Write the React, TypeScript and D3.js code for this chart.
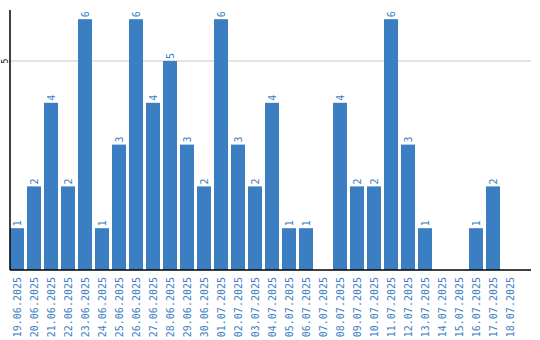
import React from "react";
import * as d3 from "d3";

const dates = [
  "19.06.2025","20.06.2025","21.06.2025","22.06.2025","23.06.2025","24.06.2025",
  "25.06.2025","26.06.2025","27.06.2025","28.06.2025","29.06.2025","30.06.2025",
  "01.07.2025","02.07.2025","03.07.2025","04.07.2025","05.07.2025","06.07.2025",
  "07.07.2025","08.07.2025","09.07.2025","10.07.2025","11.07.2025","12.07.2025",
  "13.07.2025","14.07.2025","15.07.2025","16.07.2025","17.07.2025","18.07.2025",
];
const counts = [1,2,4,2,6,1,3,6,4,5,3,2,6,3,2,4,1,1,0,4,2,2,6,3,1,0,0,1,2,0];
const yTicks = [5];

const W = 540, H = 340;
const left = 10, right = 531, bandEnd = 520, top = 10, bottom = 270;
const BLUE = "#3b7ec2";
const FONT = "'DejaVu Sans Mono', monospace";

export default function App() {
  const x = d3.scaleBand<string>().domain(dates).range([left, bandEnd]).paddingInner(0).paddingOuter(0);
  const y = d3.scaleLinear().domain([0, 6.22]).range([bottom, top]);
  const bw = x.step() - 3;
  return (
    <svg width={W} height={H} style={{ position: "absolute", left: 0, top: 0 }}>
      {yTicks.map((t) => (
        <g key={t}>
          <line x1={left} x2={right} y1={y(t)} y2={y(t)} stroke="#c8c8c8" strokeWidth={1} />
          <text transform={`translate(5,${y(t)}) rotate(-90)`} textAnchor="middle" dy="0.35em" fontSize={8} fontFamily={FONT} fill="#000">{t}</text>
        </g>
      ))}
      {dates.map((d, i) => counts[i] > 0 && (
        <g key={d}>
          <rect x={x(d)!} y={y(counts[i])} width={bw} height={bottom - y(counts[i])} fill={BLUE} />
          <text transform={`translate(${x(d)! + bw / 2},${y(counts[i]) - 2}) rotate(-90)`} dy="0.35em" fontSize={10} fontFamily={FONT} fill={BLUE}>{counts[i]}</text>
        </g>
      ))}
      {dates.map((d) => (
        <text key={"l" + d} transform={`translate(${x(d)! + bw / 2},277) rotate(-90)`} textAnchor="end" dy="0.35em" fontSize={10} fontFamily={FONT} fill={BLUE}>{d}</text>
      ))}
      <line x1={left} x2={left} y1={top} y2={bottom} stroke="#000" strokeWidth={1.5} />
      <line x1={left} x2={right} y1={bottom} y2={bottom} stroke="#000" strokeWidth={1.5} />
    </svg>
  );
}
